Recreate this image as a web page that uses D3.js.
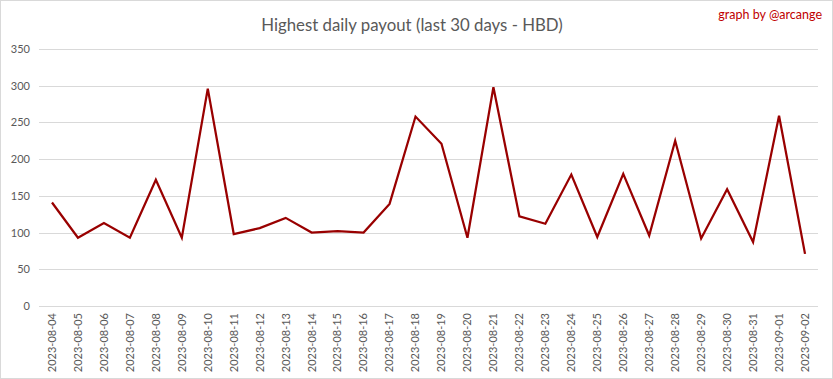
<!DOCTYPE html>
<html lang="en">
<head>
  <meta charset="utf-8">
  <script src="https://d3js.org/d3.v7.min.js"></script>
  <style>
    body { margin: 0; background: #fff; }
    text { font-family: Lato, "Liberation Sans", sans-serif; }
  </style>
</head>
<body>
  <div id="chart"></div>
  <script>
    // data
    var dates = ["2023-08-04", "2023-08-05", "2023-08-06", "2023-08-07", "2023-08-08",
      "2023-08-09", "2023-08-10", "2023-08-11", "2023-08-12", "2023-08-13",
      "2023-08-14", "2023-08-15", "2023-08-16", "2023-08-17", "2023-08-18",
      "2023-08-19", "2023-08-20", "2023-08-21", "2023-08-22", "2023-08-23",
      "2023-08-24", "2023-08-25", "2023-08-26", "2023-08-27", "2023-08-28",
      "2023-08-29", "2023-08-30", "2023-08-31", "2023-09-01", "2023-09-02"];
    var payouts = [141, 93, 113, 93, 172, 93, 296, 98, 106, 120,
      100, 102, 100, 139, 258, 221, 93, 298, 122, 112,
      179, 94, 180, 96, 225, 92, 159, 87, 259, 71];
    var yTicks = [0, 50, 100, 150, 200, 250, 300, 350];

    var width = 833;
    var height = 379;
    var margin = { top: 49, right: 15, bottom: 73, left: 39 };

    var svg = d3.select('#chart')
      .append('svg')
      .attr('width', width)
      .attr('height', height);

    // outer frame
    svg.append('rect')
      .attr('x', 0.5).attr('y', 0.5)
      .attr('width', width - 1).attr('height', height - 1)
      .attr('fill', '#fff')
      .attr('stroke', '#d9d9d9');

    var x = d3.scaleBand()
      .domain(dates)
      .range([margin.left, width - margin.right]);

    var y = d3.scaleLinear()
      .domain([0, 350])
      .range([height - margin.bottom, margin.top]);

    // gridlines
    svg.append('g')
      .selectAll('line')
      .data(yTicks)
      .enter()
      .append('line')
      .attr('x1', margin.left)
      .attr('x2', width - margin.right)
      .attr('y1', function (d) { return Math.round(y(d)) + 0.5; })
      .attr('y2', function (d) { return Math.round(y(d)) + 0.5; })
      .attr('stroke', '#d9d9d9')
      .attr('stroke-width', 1);

    // y axis labels
    var yAxis = d3.axisLeft(y).tickValues(yTicks).tickSize(0).tickPadding(9);
    svg.append('g')
      .attr('transform', 'translate(' + margin.left + ',0)')
      .call(yAxis)
      .call(function (g) { g.select('.domain').remove(); })
      .selectAll('text')
      .attr('fill', '#595959')
      .style('font-size', '11px')
      .style('font-family', 'Lato, sans-serif');

    // x axis labels, rotated
    var xAxis = d3.axisBottom(x).tickSize(0);
    var xg = svg.append('g')
      .attr('transform', 'translate(0,' + (height - margin.bottom) + ')')
      .call(xAxis);
    xg.select('.domain').remove();
    xg.selectAll('text')
      .attr('fill', '#595959')
      .style('font-size', '11px')
      .style('font-family', 'Lato, sans-serif')
      .attr('text-anchor', 'end')
      .attr('transform', 'rotate(-90)')
      .attr('x', -7)
      .attr('y', 0)
      .attr('dy', '0.35em');

    // the line
    var line = d3.line()
      .x(function (d, i) { return x(dates[i]) + x.bandwidth() / 2; })
      .y(function (d) { return y(d); });

    svg.append('path')
      .datum(payouts)
      .attr('d', line)
      .attr('fill', 'none')
      .attr('stroke', '#990000')
      .attr('stroke-width', 2.25)
      .attr('stroke-linejoin', 'miter');

    // title
    svg.append('text')
      .attr('x', 412)
      .attr('y', 31)
      .attr('text-anchor', 'middle')
      .attr('fill', '#595959')
      .style('font-size', '16.8px')
      .text('Highest daily payout (last 30 days - HBD)');

    svg.append('text')
      .attr('x', 822)
      .attr('y', 19)
      .attr('text-anchor', 'end')
      .attr('fill', '#c00000')
      .style('font-size', '12.5px')
      .text('graph by @arcange');
  </script>
</body>
</html>
